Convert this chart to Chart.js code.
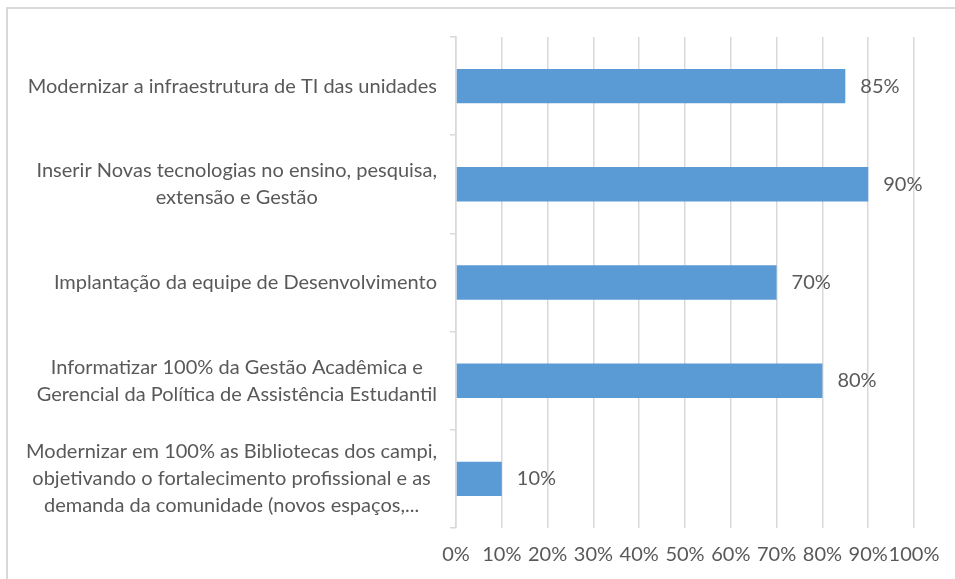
<!DOCTYPE html>
<html>
<head>
<meta charset="utf-8">
<script src="https://cdn.jsdelivr.net/npm/chart.js@4/dist/chart.umd.min.js"></script>
<style>
html,body{margin:0;padding:0;background:#fff;}
#wrap{width:955px;height:579px;position:relative;}
</style>
</head>
<body>
<div id="wrap"><canvas id="c" width="955" height="579"></canvas></div>
<script>
const categories = [
  "Modernizar a infraestrutura de TI das unidades",
  ["Inserir Novas tecnologias no ensino, pesquisa,", "extensão e Gestão"],
  "Implantação da equipe de Desenvolvimento",
  ["Informatizar 100% da Gestão Acadêmica e", "Gerencial da Política de Assistência Estudantil"],
  ["Modernizar em 100% as Bibliotecas dos campi,", "objetivando o fortalecimento profissional e as", "demanda da comunidade (novos espaços,..."]
];
const values = [85, 90, 70, 80, 10];
const xTicks = [0, 10, 20, 30, 40, 50, 60, 70, 80, 90, 100];

const FONT = "Lato, 'Open Sans', sans-serif";
const FSIZE = 20;
const TXT = "#595959";
const GRID = "#d9d9d9";

const framePlugin = {
  id: 'frame',
  beforeDraw(chart) {
    const ctx = chart.ctx;
    ctx.save();
    ctx.strokeStyle = GRID;
    ctx.lineWidth = 2;
    ctx.beginPath();
    ctx.moveTo(7, 600);
    ctx.lineTo(7, 8);
    ctx.lineTo(1000, 8);
    ctx.stroke();
    ctx.restore();
  }
};

const labelPlugin = {
  id: 'labels',
  afterDraw(chart) {
    const ctx = chart.ctx;
    const ys = chart.scales.y;
    ctx.save();
    ctx.font = FSIZE + "px " + FONT;
    ctx.fillStyle = TXT;
    ctx.textBaseline = 'middle';
    ctx.textAlign = 'center';
    const right = 437;
    const lh = 27;
    categories.forEach((lab, i) => {
      const lines = Array.isArray(lab) ? lab : [lab];
      const w = Math.max(...lines.map(l => ctx.measureText(l).width));
      const cx = right - w / 2;
      const cy = ys.getPixelForValue(i);
      lines.forEach((l, k) => {
        ctx.fillText(l, cx, cy + (k - (lines.length - 1) / 2) * lh);
      });
    });
    // data labels
    ctx.textAlign = 'left';
    const meta = chart.getDatasetMeta(0);
    meta.data.forEach((bar, i) => {
      ctx.fillText(values[i] + "%", bar.x + 15, bar.y);
    });
    ctx.restore();
  }
};

new Chart(document.getElementById('c'), {
  type: 'bar',
  data: {
    labels: categories,
    datasets: [{
      data: values,
      backgroundColor: '#5B9BD5',
      borderWidth: 0,
      barPercentage: 0.35,
      categoryPercentage: 1.0
    }]
  },
  options: {
    indexAxis: 'y',
    responsive: false,
    animation: false,
    devicePixelRatio: 1,
    layout: { padding: { top: 37, right: 41, bottom: 0, left: 0 } },
    plugins: { legend: { display: false }, tooltip: { enabled: false } },
    scales: {
      x: {
        min: 0, max: 100,
        afterBuildTicks(scale) { scale.ticks = xTicks.map(v => ({ value: v })); },
        afterFit(scale) { scale.height = 51; },
        grid: { color: GRID, lineWidth: 1.5, drawTicks: false },
        border: { display: false },
        ticks: {
          padding: 15,
          color: TXT,
          autoSkip: false,
          maxRotation: 0,
          minRotation: 0,
          font: { family: FONT, size: FSIZE },
          callback: v => v + '%'
        }
      },
      y: {
        afterFit(scale) { scale.width = 456; },
        grid: { color: GRID, lineWidth: 1.5, drawOnChartArea: false, drawTicks: true, tickLength: 6 },
        border: { display: true, color: GRID, width: 1.5 },
        ticks: { display: false }
      }
    }
  },
  plugins: [framePlugin, labelPlugin]
});
</script>
</body>
</html>
